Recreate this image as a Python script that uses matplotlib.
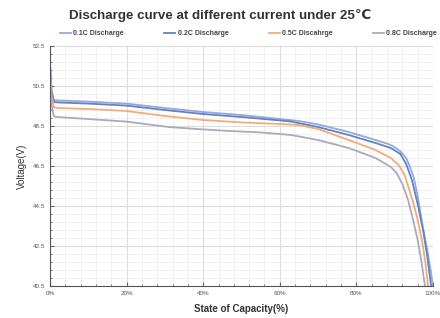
import matplotlib.pyplot as plt
from matplotlib.ticker import MultipleLocator, FuncFormatter

plt.rcParams['font.family'] = ['Liberation Sans', 'DejaVu Sans']

# state of capacity (%) and voltage (V)
soc_01 = [0, 0.4, 1, 2, 10, 20, 30, 40, 50, 60, 65, 70, 78, 85, 88, 89.5, 91.4, 93, 94, 95, 96, 97.4, 98.5, 99.3, 100]
v_01 = [51.5, 50.2, 49.8, 49.78, 49.72, 49.62, 49.4, 49.2, 49.05, 48.85, 48.75, 48.58, 48.2, 47.8, 47.62, 47.5, 47.25, 46.9, 46.45, 45.9, 45.0, 43.4, 42.3, 41.4, 40.5]

soc_02 = [0, 0.4, 1, 2, 10, 20, 30, 40, 50, 60, 63, 70, 78, 85, 89, 91.5, 93, 94.5, 96, 97.5, 98.5, 99.5]
v_02 = [51.7, 50.3, 49.7, 49.68, 49.62, 49.52, 49.3, 49.1, 48.95, 48.78, 48.72, 48.45, 48.05, 47.65, 47.4, 47.1, 46.6, 45.8, 44.6, 43.2, 42.0, 40.5]

soc_05 = [0, 0.4, 1, 2, 10, 20, 30, 40, 50, 60, 65, 70, 78, 85, 89, 91, 92.5, 93.5, 94.8, 96, 97.1, 98, 98.7]
v_05 = [51.4, 50.0, 49.45, 49.4, 49.35, 49.25, 49.0, 48.8, 48.68, 48.6, 48.55, 48.35, 47.8, 47.3, 46.9, 46.55, 46.1, 45.5, 44.7, 43.8, 42.8, 41.7, 40.5]

soc_08 = [0, 0.4, 1, 2, 10, 20, 31, 40, 47, 55, 63, 70, 78, 85, 89, 90.5, 92, 93.5, 94.8, 96, 97, 97.9]
v_08 = [51.2, 49.6, 48.98, 48.95, 48.85, 48.72, 48.45, 48.33, 48.25, 48.18, 48.05, 47.8, 47.4, 46.9, 46.45, 46.15, 45.6, 44.8, 43.8, 42.8, 41.7, 40.5]

labels = ['0.1C Discharge', '0.2C Discharge', '0.5C Discahrge', '0.8C Discharge']
colors = ['#93abdb', '#6482c2', '#f3ab78', '#aaaabd']

fig = plt.figure(figsize=(4.4, 3.18), dpi=100)
ax = fig.add_axes([0.1136, 0.1006, 0.8705, 0.7547])

for x, y, lab, c in zip([soc_01, soc_02, soc_05, soc_08], [v_01, v_02, v_05, v_08], labels, colors):
    ax.plot(x, y, color=c, lw=1.3, label=lab)

ax.set_xlim(0, 100)
ax.set_ylim(40.5, 52.5)
ax.xaxis.set_major_locator(MultipleLocator(20))
ax.xaxis.set_minor_locator(MultipleLocator(4))
ax.yaxis.set_major_locator(MultipleLocator(2, offset=0.5))
ax.yaxis.set_minor_locator(MultipleLocator(0.4, offset=0.1))
ax.xaxis.set_major_formatter(FuncFormatter(lambda v, p: f"{v:.0f}%"))
ax.yaxis.set_major_formatter(FuncFormatter(lambda v, p: f"{v:.1f}"))

ax.grid(which='major', color='#dcdcdc', lw=0.8)
ax.grid(which='minor', color='#efefef', lw=0.6)
ax.set_axisbelow(True)
ax.tick_params(which='both', direction='in', labelsize=4.5, labelcolor='#555555', color='#666666')
ax.tick_params(which='major', length=3)
ax.tick_params(which='minor', length=1.5)
for side in ['top', 'right']:
    ax.spines[side].set_visible(False)
for side in ['left', 'bottom']:
    ax.spines[side].set_color('#555555')

ax.set_xlabel('State of Capacity(%)', fontsize=7, fontweight='bold', color='#333333', labelpad=6)
ax.set_ylabel('Voltage(V)', fontsize=7, color='#333333')

fig.suptitle('Discharge curve at different current under 25℃', fontsize=9.6, fontweight='bold',
             color='#333333', y=0.972)
fig.legend(loc='lower left', bbox_to_anchor=(0.13, 0.875, 0.87, 0.04), mode='expand', ncol=4,
           frameon=False, handlelength=1.6, handletextpad=0.3, prop={'size': 5, 'weight': 'bold'},
           labelcolor='#444444', borderaxespad=0)

fig.savefig('out.png', dpi=100)
